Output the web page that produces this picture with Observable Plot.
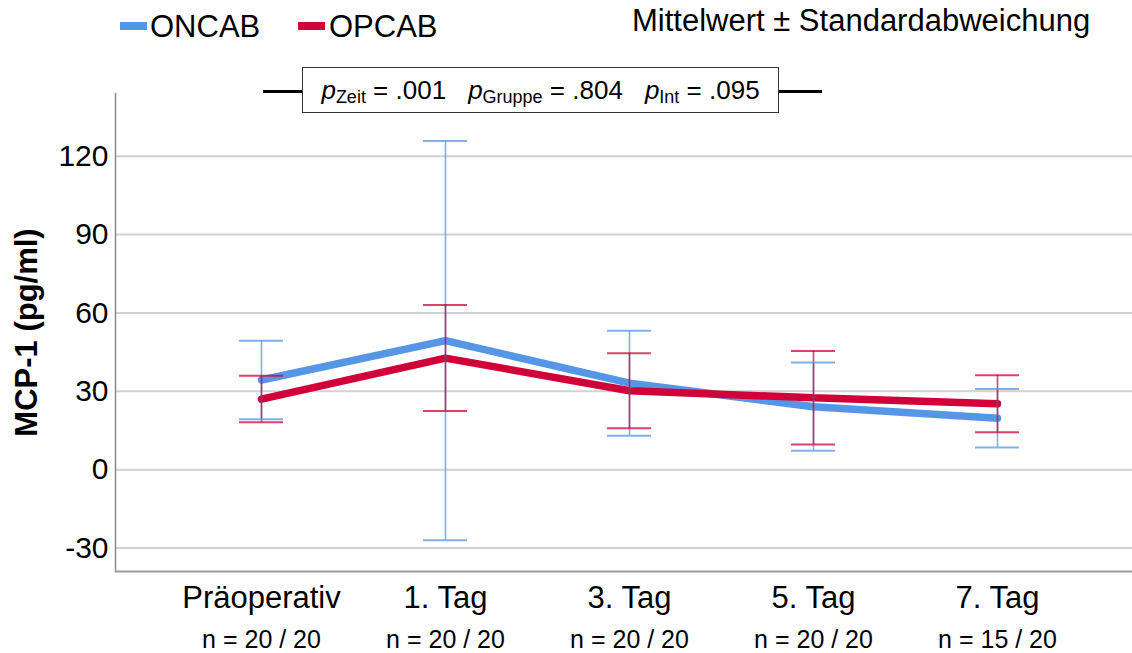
<!DOCTYPE html>
<html>
<head>
<meta charset="utf-8">
<script src="https://cdn.jsdelivr.net/npm/d3@7"></script>
<script src="https://cdn.jsdelivr.net/npm/@observablehq/plot@0.6"></script>
<style>
  body { margin: 0; background: #fff; font-family: "Liberation Sans", Arial, sans-serif; color: #000; }
  #wrap { position: relative; width: 1132px; height: 653px; }
  #wrap svg { position: absolute; left: 0; top: 0; }
  .abs { position: absolute; white-space: nowrap; line-height: 30px; }
  .swatch { position: absolute; height: 8px; width: 27px; }
  .legend-text { font-size: 31px; }
  .pbox {
    position: absolute; left: 302px; top: 67px; width: 477px; height: 46px;
    box-sizing: border-box; border: 1px solid #333; background: #fff;
    display: flex; align-items: center; justify-content: center;
    font-size: 26px; line-height: 1;
  }
  .pbox i { font-style: italic; }
  .pbox .sub { font-size: 18px; position: relative; top: 4px; }
  .pbox .gap { display: inline-block; width: 22px; }
  .connector { position: absolute; height: 3px; background: #000; top: 90px; }
</style>
</head>
<body>
<div id="wrap">
  <div id="chart"></div>
</div>
<script>
// Time points and sample sizes (ONCAB / OPCAB)
const timepoints = ["Präoperativ", "1. Tag", "3. Tag", "5. Tag", "7. Tag"];
const sampleSizes = ["n = 20 / 20", "n = 20 / 20", "n = 20 / 20", "n = 20 / 20", "n = 15 / 20"];

// MCP-1 (pg/ml): mean and standard deviation per group
const groups = ["ONCAB", "OPCAB"];
const oncabMean = [34.3, 49.4, 33.1, 24.1, 19.7];
const oncabSD   = [15.0, 76.4, 20.1, 16.9, 11.2];
const opcabMean = [27.0, 42.7, 30.2, 27.5, 25.2];
const opcabSD   = [ 8.9, 20.3, 14.4, 17.9, 10.9];

// Statistics shown in the header box
const pValues = [
  {name: "Zeit", value: ".001"},
  {name: "Gruppe", value: ".804"},
  {name: "Int", value: ".095"}
];

const yTicks = [-30, 0, 30, 60, 90, 120];
const yDomain = [-39, 144];

const colors = {ONCAB: "#5596e6", OPCAB: "#d10039"};

const rows = [
  ...timepoints.map((t, i) => ({time: t, group: "ONCAB", mean: oncabMean[i], sd: oncabSD[i]})),
  ...timepoints.map((t, i) => ({time: t, group: "OPCAB", mean: opcabMean[i], sd: opcabSD[i]}))
];
const lo = d => d.mean - d.sd;
const hi = d => d.mean + d.sd;

const chart = Plot.plot({
  width: 1132,
  height: 653,
  marginTop: 93,
  marginBottom: 82,
  marginLeft: 115,
  marginRight: 0,
  style: {fontFamily: "'Liberation Sans', Arial, sans-serif", color: "#000", background: "transparent", overflow: "visible"},
  x: {type: "point", domain: timepoints, padding: 0.725, insetLeft: 10},
  y: {domain: yDomain},
  color: {domain: groups, range: groups.map(g => colors[g])},
  marks: [
    Plot.gridY(yTicks, {stroke: "#d2d2d2", strokeOpacity: 1, strokeWidth: 2}),
    Plot.frame({anchor: "left", stroke: "#8a8a8a", strokeWidth: 1.5}),
    Plot.ruleY([yDomain[0]], {stroke: "#9a9a9a", strokeWidth: 2}),
    // mean profiles
    Plot.line(rows, {x: "time", y: "mean", z: "group", stroke: "group", strokeWidth: 7.5, strokeLinejoin: "miter"}),
    // ± SD whiskers and caps
    Plot.ruleX(rows, {x: "time", y1: lo, y2: hi, stroke: "group", strokeWidth: 1.6, strokeOpacity: 0.75}),
    Plot.ruleY(rows, {x1: "time", x2: "time", y: lo, stroke: "group", strokeWidth: 2, strokeOpacity: 0.75, insetLeft: -22, insetRight: -22}),
    Plot.ruleY(rows, {x1: "time", x2: "time", y: hi, stroke: "group", strokeWidth: 2, strokeOpacity: 0.75, insetLeft: -22, insetRight: -22}),
    // axes
    Plot.axisY({ticks: yTicks, tickSize: 0, tickPadding: 7, fontSize: 30, label: null, tickFormat: d => String(d)}),
    Plot.axisX({tickSize: 0, tickPadding: 14, fontSize: 31, label: null}),
    Plot.axisX({tickSize: 0, tickPadding: 59, fontSize: 25, label: null,
      tickFormat: d => sampleSizes[timepoints.indexOf(d)]}),
    Plot.text(["MCP-1 (pg/ml)"], {frameAnchor: "left", textAnchor: "middle", rotate: -90, dx: -88, fontWeight: "bold", fontSize: 31, fill: "#000"})
  ]
});
document.getElementById("chart").appendChild(chart);

// Legend and header annotations
const wrap = document.getElementById("wrap");
function add(html) { wrap.insertAdjacentHTML("beforeend", html); }

add(`<div class="swatch" style="left:120px;top:22px;background:${colors.ONCAB}"></div>`);
add(`<div class="abs legend-text" style="left:150px;top:12px">${groups[0]}</div>`);
add(`<div class="swatch" style="left:298px;top:22px;background:${colors.OPCAB}"></div>`);
add(`<div class="abs legend-text" style="left:329px;top:12px">${groups[1]}</div>`);
add(`<div class="abs legend-text" style="left:632px;top:6px">Mittelwert ± Standardabweichung</div>`);

add(`<div class="connector" style="left:263px;width:40px"></div>`);
add(`<div class="connector" style="left:778px;width:44px"></div>`);
add(`<div class="pbox">${pValues.map(p =>
  `<span><i>p</i><span class="sub">${p.name}</span> = ${p.value}</span>`).join('<span class="gap"></span>')}</div>`);
</script>
</body>
</html>
